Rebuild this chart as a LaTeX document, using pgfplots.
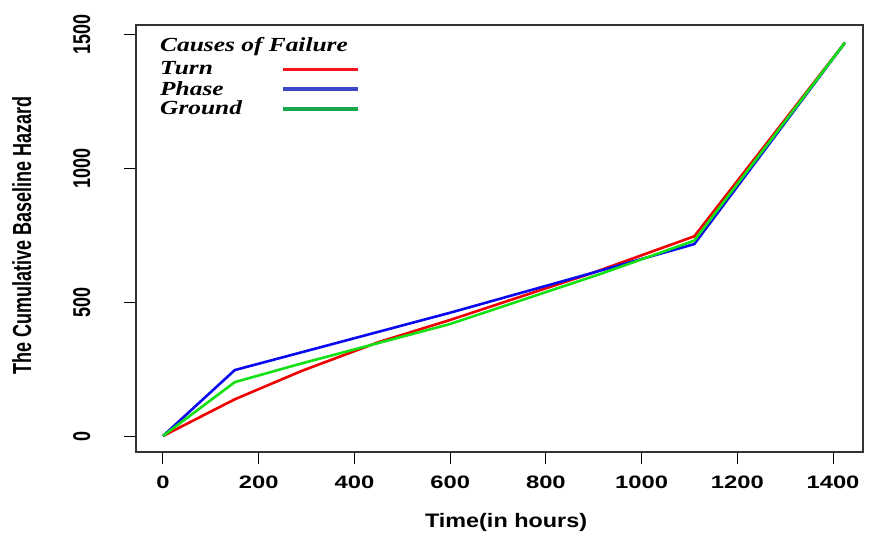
\documentclass[border=0pt]{standalone}
\usepackage{fontspec}
\setmainfont{Liberation Sans}
\newfontfamily\legfont{Liberation Serif}
\usepackage{pgfplots}
\pgfplotsset{compat=1.18}
\definecolor{pred}{RGB}{240,0,0}
\definecolor{pblue}{RGB}{10,10,240}
\definecolor{pgreen}{RGB}{20,225,20}
\definecolor{lred}{RGB}{245,20,30}
\definecolor{lblue}{RGB}{60,72,200}
\definecolor{lgreen}{RGB}{22,168,74}
\newcommand{\legtext}[1]{\scalebox{1.27}[1]{\fontsize{20bp}{20bp}\selectfont\legfont\bfseries\itshape #1}}
\begin{document}
\begin{tikzpicture}
\begin{axis}[
  scale only axis,
  width=727bp, height=427bp,
  xmin=-56.4, xmax=1462.6,
  ymin=-59.7, ymax=1533.6,
  xtick={0,200,400,600,800,1000,1200,1400},
  ytick={0,500,1000,1500},
  tick align=outside,
  major tick length=12bp,
  xtick pos=bottom, ytick pos=left,
  axis line style={black!80, line width=1.2bp},
  every tick/.style={black, line width=1bp},
  /pgf/number format/1000 sep={},
  /pgf/number format/assume math mode=true,
  tick label style={font=\fontsize{18bp}{18bp}\selectfont\bfseries},
  xticklabel={\scalebox{1.32}[1]{\pgfmathprintnumber{\tick}}},
  yticklabel={\scalebox{1}[1.35]{\pgfmathprintnumber{\tick}}},
  xticklabel style={yshift=-8bp},
  yticklabel style={rotate=90, anchor=south},
  yticklabel shift=30bp,
  every axis x label/.style={at={(axis description cs:0.509,-0.166)}, anchor=center},
  every axis y label/.style={at={(axis description cs:-0.157,0.508)}, anchor=center, rotate=90},
  xlabel={\scalebox{1.2}[1]{\fontsize{19.5bp}{19.5bp}\selectfont\bfseries Time(in hours)}},
  ylabel={\scalebox{1}[1.45]{\fontsize{18bp}{18bp}\selectfont\bfseries The Cumulative Baseline Hazard}},
  clip=false,
]
\addplot[pred, line width=2.6bp, line join=round] coordinates {
  (0,0) (150,137) (290,243) (450,350) (600,433) (900,610) (1110,745) (1425,1468)};
\addplot[pblue, line width=2.6bp, line join=round] coordinates {
  (0,0) (150,246) (600,460) (900,610) (1110,716) (1425,1468)};
\addplot[pgreen, line width=2.6bp, line join=round] coordinates {
  (0,0) (150,201) (286,269) (600,418) (913,604) (1110,729) (1425,1468)};
% legend
\node[anchor=west, inner sep=0pt] at (axis description cs:0.033,0.9485) {\legtext{Causes of Failure}};
\node[anchor=west, inner sep=0pt] at (axis description cs:0.033,0.899) {\legtext{Turn}};
\node[anchor=west, inner sep=0pt] at (axis description cs:0.033,0.852) {\legtext{Phase}};
\node[anchor=west, inner sep=0pt] at (axis description cs:0.033,0.806) {\legtext{Ground}};
\draw[lred, line width=3.3bp] (axis description cs:0.202,0.895) -- (axis description cs:0.305,0.895);
\draw[lblue, line width=3.3bp] (axis description cs:0.202,0.850) -- (axis description cs:0.305,0.850);
\draw[lgreen, line width=3.3bp] (axis description cs:0.202,0.803) -- (axis description cs:0.305,0.803);
\end{axis}
\pgfresetboundingbox
\path[use as bounding box] ([xshift=-136bp,yshift=-89bp]current axis.south west) rectangle ([xshift=10bp,yshift=25bp]current axis.north east);
\end{tikzpicture}
\end{document}
